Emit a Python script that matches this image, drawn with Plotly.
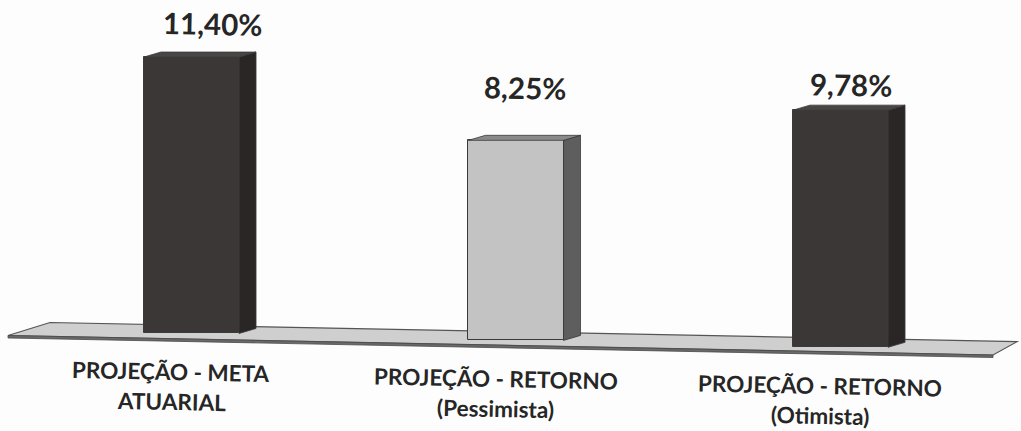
import plotly.graph_objects as go

# --- data -------------------------------------------------------------
categories = [
    "PROJEÇÃO - META<br>ATUARIAL",
    "PROJEÇÃO - RETORNO<br>(Pessimista)",
    "PROJEÇÃO - RETORNO<br>(Otimista)",
]
values = [11.40, 8.25, 9.78]
value_labels = ["11,40%", "8,25%", "9,78%"]

# --- styling ----------------------------------------------------------
front_colors = ["#3c3737", "#c3c3c3", "#3c3737"]
side_colors = ["#2a2626", "#5e5e5e", "#2a2626"]
top_colors = ["#4a4545", "#8a8a8a", "#4a4545"]
edge_color = "#3a3a3a"
text_color = "#262626"
FONT = "Lato"

W, H = 1021, 431
px_per_unit_y = 24.25          # pixels per percentage point
px_per_cat = 324.5             # pixels between category centres
x_range = [-0.5901, -0.5901 + W / px_per_cat]
y_range = [-4.021, -4.021 + H / px_per_unit_y]

tilt = 0.285                   # baseline drop per category (page is slightly skewed)
bar_w = 0.293                  # front face width
depth_dx = 17 / px_per_cat     # 3-D depth offset
depth_dy = 5 / px_per_unit_y

# label offsets in pixels
value_lift = [34, 53, 26]
value_dx = [22, 9, 11]
cat_drop = 38
cat_dx = -20
line_gap = 30
text_angle = 1.2

xs = list(range(len(values)))
bases = [-tilt * i for i in xs]

fig = go.Figure()

# floor slab (paper coordinates, drawn below everything)
def pt(px, py):
    return f"{px / W:.5f},{1 - py / H:.5f}"

floor_top = "M" + " L".join([pt(50, 322.5), pt(1017, 341.7), pt(993, 355), pt(8, 335.5)]) + " Z"
floor_edge = "M" + " L".join([pt(8, 335.5), pt(993, 355), pt(993, 357.5), pt(8, 338)]) + " Z"
fig.add_shape(type="path", path=floor_top, xref="paper", yref="paper",
              fillcolor="#cfcfcf", line=dict(color="#555555", width=1.2), layer="below")
fig.add_shape(type="path", path=floor_edge, xref="paper", yref="paper",
              fillcolor="#6a6a6a", line=dict(color="#4a4a4a", width=0.8), layer="below")

# side and top faces of each 3-D bar
for i, (v, b) in enumerate(zip(values, bases)):
    xl, xr = i - bar_w / 2, i + bar_w / 2
    t = b + v
    fig.add_trace(go.Scatter(
        x=[xr, xr, xr + depth_dx, xr + depth_dx, xr],
        y=[b, t, t + depth_dy, b + depth_dy, b],
        fill="toself", fillcolor=side_colors[i], mode="lines",
        line=dict(color=edge_color, width=0.8), hoverinfo="skip", showlegend=False))
    fig.add_trace(go.Scatter(
        x=[xl, xr, xr + depth_dx, xl + depth_dx, xl],
        y=[t, t, t + depth_dy, t + depth_dy, t],
        fill="toself", fillcolor=top_colors[i], mode="lines",
        line=dict(color=edge_color, width=0.8), hoverinfo="skip", showlegend=False))

# front faces
fig.add_trace(go.Bar(
    x=xs, y=values, base=bases, width=bar_w,
    marker=dict(color=front_colors, line=dict(color=edge_color, width=1)),
    hoverinfo="skip", showlegend=False))

# value labels
for i, (v, b) in enumerate(zip(values, bases)):
    fig.add_annotation(x=i, y=b + v, text=f"<b>{value_labels[i]}</b>", showarrow=False,
                       xshift=value_dx[i], yshift=value_lift[i], textangle=text_angle,
                       font=dict(family=FONT, size=29.5, color=text_color))

# category labels, one annotation per line
for i, (cat, b) in enumerate(zip(categories, bases)):
    lines = cat.split("<br>")
    for j, line in enumerate(lines):
        fig.add_annotation(x=i, y=b, text=f"<b>{line}</b>", showarrow=False,
                           xshift=cat_dx, yshift=-(cat_drop + j * line_gap),
                           textangle=text_angle,
                           font=dict(family=FONT, size=22.5, color=text_color))

fig.update_layout(
    width=W, height=H,
    margin=dict(l=0, r=0, t=0, b=0),
    paper_bgcolor="#fdfdfd", plot_bgcolor="rgba(0,0,0,0)",
    xaxis=dict(range=x_range, visible=False, fixedrange=True),
    yaxis=dict(range=y_range, visible=False, fixedrange=True),
    bargap=0,
)

fig.write_html("out.html")
